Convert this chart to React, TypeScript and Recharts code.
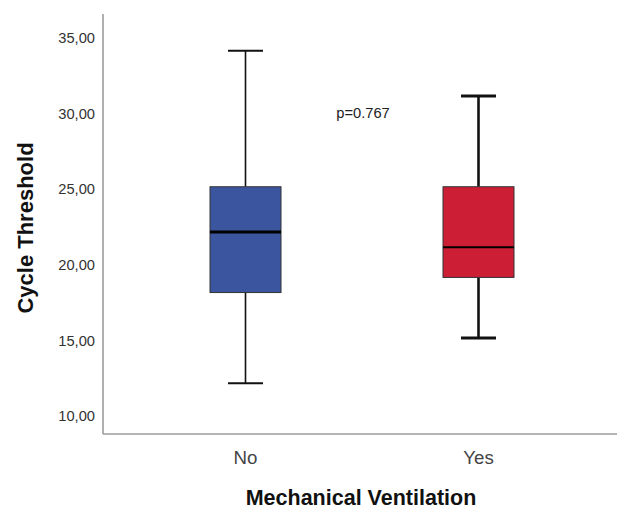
import React from 'react';
import { ComposedChart, Bar, XAxis, YAxis, Label, ReferenceLine } from 'recharts';

const categories = ['No', 'Yes'];
const minValues = [12, 15];
const q1Values = [18, 19];
const medianValues = [22, 21];
const q3Values = [25, 25];
const maxValues = [34, 31];
const yTicks = [10, 15, 20, 25, 30, 35];
const pValueText = 'p=0.767';
const pValueY = 30;

const boxFills = ['#3b569f', '#cc1f36'];
const whiskerWidths = [1.6, 2.6];
const medianWidths = [3, 2];

const data = categories.map((name, i) => ({
  name,
  idx: i,
  range: [minValues[i], maxValues[i]],
  min: minValues[i],
  q1: q1Values[i],
  median: medianValues[i],
  q3: q3Values[i],
  max: maxValues[i],
}));

const FONT = '"Liberation Sans", Arial, sans-serif';

const BoxShape = (props: any) => {
  const { x, y, width, height, payload } = props;
  if (payload == null) return null;
  const { min, q1, median, q3, max, idx } = payload;
  const ppu = height / (max - min);
  const yOf = (v: number) => y + (max - v) * ppu;
  const cx = x + width / 2;
  const capHalf = 17.5;
  const ww = whiskerWidths[idx];
  return (
    <g>
      <line x1={cx} x2={cx} y1={yOf(max)} y2={yOf(q3)} stroke="#111" strokeWidth={ww} />
      <line x1={cx} x2={cx} y1={yOf(q1)} y2={yOf(min)} stroke="#111" strokeWidth={ww} />
      <line x1={cx - capHalf} x2={cx + capHalf} y1={yOf(max)} y2={yOf(max)} stroke="#111" strokeWidth={ww + 0.4} />
      <line x1={cx - capHalf} x2={cx + capHalf} y1={yOf(min)} y2={yOf(min)} stroke="#111" strokeWidth={ww + 0.4} />
      <rect x={x} y={yOf(q3)} width={width} height={yOf(q1) - yOf(q3)} fill={boxFills[idx]} stroke="#333" strokeWidth={1} />
      <line x1={x} x2={x + width} y1={yOf(median)} y2={yOf(median)} stroke="#000" strokeWidth={medianWidths[idx]} />
    </g>
  );
};

const YTick = (props: any) => {
  const { x, y, payload } = props;
  return (
    <text x={x} y={y} dy={2.7} textAnchor="end" dominantBaseline="central" fill="#333" fontSize={14.7} fontFamily={FONT}>
      {payload.value.toFixed(2).replace('.', ',')}
    </text>
  );
};

const XTick = (props: any) => {
  const { x, y, payload } = props;
  return (
    <text x={x} y={y + 15} textAnchor="middle" dominantBaseline="central" fill="#444" fontSize={18.7} fontFamily={FONT}>
      {payload.value}
    </text>
  );
};

export default function App() {
  return (
    <div style={{ position: 'absolute', left: 0, top: 0, background: '#fff' }}>
      <ComposedChart width={618} height={512} data={data} margin={{ top: 14, right: 1, bottom: 0, left: 0 }}>
        <XAxis
          dataKey="name"
          type="category"
          padding={{ left: 26, right: 22 }}
          height={78}
          tickLine={false}
          axisLine={{ stroke: '#9c9c9c', strokeWidth: 1.6 }}
          tick={<XTick />}
          interval={0}
        >
          <Label
            content={(p: any) => {
              const vb = p.viewBox;
              return (
                <text x={vb.x + vb.width / 2 + 1} y={498} textAnchor="middle" dominantBaseline="central" fontWeight="bold" fontSize={21.5} fill="#111" fontFamily={FONT}>
                  Mechanical Ventilation
                </text>
              );
            }}
          />
        </XAxis>
        <YAxis
          type="number"
          domain={[8.64, 36.43]}
          ticks={yTicks}
          width={103}
          tickLine={false}
          tickSize={6}
          tickMargin={2}
          axisLine={{ stroke: '#9c9c9c', strokeWidth: 1.6 }}
          tick={<YTick />}
          allowDataOverflow
        >
          <Label
            content={() => (
              <text x={25} y={228} transform="rotate(-90 25 228)" textAnchor="middle" dominantBaseline="central" fontWeight="bold" fontSize={22} fill="#111" fontFamily={FONT}>
                Cycle Threshold
              </text>
            )}
          />
        </YAxis>
        <ReferenceLine
          y={pValueY}
          stroke="none"
          label={{
            content: (p: any) => {
              const vb = p.viewBox;
              return (
                <text x={vb.x + vb.width / 2 + 3} y={vb.y} dy={1.5} textAnchor="middle" dominantBaseline="central" fontSize={14.7} fill="#222" fontFamily={FONT}>
                  {pValueText}
                </text>
              );
            },
          }}
        />
        <Bar dataKey="range" barSize={71} shape={<BoxShape />} isAnimationActive={false} />
      </ComposedChart>
    </div>
  );
}
